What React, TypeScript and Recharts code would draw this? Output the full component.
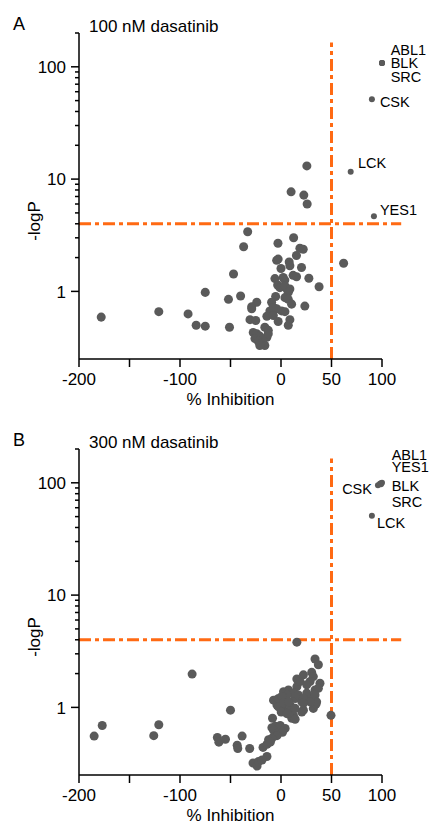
import { ReferenceLine, Scatter, ScatterChart, XAxis, YAxis, ZAxis } from "recharts";

const FONT = '"Liberation Sans", Arial, Helvetica, sans-serif';
const DOT = "#5a5a5a";
const ORANGE = "#ff6a13";

const xTicks = [-200, -150, -100, -50, 0, 50, 100];
const xTickLabels = ["-200", "", "-100", "", "0", "50", "100"];
const yTicks = [1, 2, 3, 4, 5, 6, 7, 8, 9, 10, 20, 30, 40, 50, 60, 70, 80, 90, 100, 200];
const yMajor = [1, 10, 100];

const inhibThreshold = 50;
const logPThreshold = 4;

// [% inhibition, -logP] for the kinases without a name
const kinasesA: [number, number][] = [
    [-178, 0.59], [-121, 0.66], [-92, 0.63], [-84, 0.5], [-75, 0.49], [-75, 0.98], [-52, 0.85], [-51, 0.48], [-47, 1.43], [-40, 0.91],
    [25.6, 13.1], [10, 7.7], [22.6, 7.2], [25.9, 6.0], [-33, 3.4], [-37, 2.5], [-3, 2.68], [12.5, 3.0], [18.7, 2.42], [22, 2.37],
    [15.3, 2.09], [-4.3, 1.89], [-2.8, 1.94], [8.1, 1.83], [8.8, 1.69], [0, 1.6], [20.3, 1.63], [62, 1.78],
    [-6, 1.3], [2.2, 1.33], [3.8, 1.26], [12, 1.39], [15.4, 1.35], [27.6, 1.31], [37.7, 1.1], [-3.3, 1.14], [-1.1, 1.08], [5.5, 1.06],
    [7.2, 1.01], [3.9, 1.12], [8.8, 1.05], [7.2, 0.98], [-5.3, 0.9], [3.9, 0.88], [7.2, 0.85], [10.5, 0.77], [23.6, 0.74],
    [-24, 0.8], [-29, 0.73], [-29, 0.7], [-9.3, 0.8], [-7.6, 0.72], [-11, 0.67], [-4.3, 0.7], [0.6, 0.67], [3.9, 0.66], [-14, 0.6],
    [-7.6, 0.61], [-2.8, 0.54], [8.8, 0.56], [7.2, 0.5], [-30.7, 0.56], [-25, 0.55], [-16, 0.48], [-12.6, 0.45], [-27.5, 0.43],
    [-24, 0.42], [-21, 0.4], [-25.8, 0.38], [-22.5, 0.36], [-19, 0.35], [-17.5, 0.34], [-16, 0.33], [-21, 0.33], [-14, 0.39], [-12.6, 0.42],
];

const kinasesB: [number, number][] = [
    [-185, 0.555], [-177, 0.69], [-126, 0.56], [-121, 0.7], [-88, 1.98], [-50, 0.945], [-63, 0.54], [-61.5, 0.49], [-55, 0.52],
    [-38.5, 0.555], [-43.4, 0.46], [-42.8, 0.43], [-31, 0.43], [-17.8, 0.44], [-13.9, 0.365], [-27.7, 0.32], [-23.7, 0.3],
    [-22.2, 0.33], [-18.8, 0.34], [49.5, 0.85],
    [-8.4, 0.8], [-9, 0.66], [-5.7, 0.68], [-0.8, 0.69], [4.1, 0.65], [-7.4, 0.625], [-2.5, 0.595], [1.5, 0.6], [-4, 0.56],
    [-12.3, 0.515], [-9, 0.53], [-13.9, 0.47], [-10.6, 0.49], [-4, 1.05],
    [-7.4, 1.16], [-2.5, 1.2], [4.1, 1.25], [14, 1.2], [20.6, 1.12], [28.8, 1.25],
    [-2.5, 1.01], [2.5, 0.945], [7.4, 0.91], [12.3, 0.85], [10.7, 0.8], [14, 0.785], [20.6, 0.91], [22.2, 0.945], [32, 0.98],
    [32, 1.09], [4.1, 1.09], [9, 1.05], [14, 0.98], [0.2, 0.91], [5.8, 0.88], [34.7, 1.07],
    [2.5, 1.38], [9, 1.34], [15.7, 1.53], [25.5, 1.34], [33.7, 1.43], [38.6, 1.64],
    [15.7, 3.81], [33.7, 2.7], [37, 2.4], [22.2, 1.95], [30.4, 2.05], [32, 1.88], [15.7, 1.79], [18.9, 1.7], [28.8, 1.7],
    [25.5, 1.59], [37, 1.48], [7.4, 1.43], [12.3, 1.34], [5.8, 1.29], [0.9, 1.25], [17.2, 1.29], [22.2, 1.2], [33.7, 1.29],
    [35.3, 1.12], [28.8, 1.12], [2.5, 1.1], [7.4, 1.12], [22.2, 1.09],
];

// named hits
const hitNamesA = ["ABL1", "BLK", "SRC", "CSK", "LCK", "YES1"];
const hitInhibA = [100, 100, 100, 90, 69, 92];
const hitLogPA = [108, 108, 108, 51.4, 11.6, 4.68];

const hitNamesB = ["ABL1", "YES1", "BLK", "SRC", "CSK", "LCK"];
const hitInhibB = [99, 100, 98, 99, 96, 90];
const hitLogPB = [99, 100, 98, 97, 95, 51];

// label placement relative to the dot: dx, dy, anchor
const labelPosA: Record<string, [number, number, string]> = {
    ABL1: [8.7, -8, "start"], BLK: [8.7, 5, "start"], SRC: [8.7, 19, "start"],
    CSK: [8, 7.7, "start"], LCK: [7.3, -3.6, "start"], YES1: [6, -1.2, "start"],
};
const labelPosB: Record<string, [number, number, string]> = {
    ABL1: [10.7, -23.3, "start"], YES1: [9.7, -11, "start"], BLK: [11.7, 7, "start"],
    SRC: [10.7, 22.4, "start"], CSK: [-6, 8.7, "end"], LCK: [5, 12.5, "start"],
};

const YTick = (props: any) => {
    const { x, y, payload } = props;
    const major = yMajor.includes(payload.value);
    return (
        <g>
            <line x1={x - (major ? 8 : 4)} x2={x} y1={y} y2={y} stroke="#000" strokeWidth={1.5} />
            {major && (
                <text x={x - 13} y={y} dy="0.36em" textAnchor="end" fontSize={17} fill="#000" fontFamily={FONT}>
                    {String(payload.value)}
                </text>
            )}
        </g>
    );
};

const XLabel = (props: any) => {
    const vb = props.viewBox;
    return (
        <text x={vb.x + vb.width / 2} y={vb.y + 46} textAnchor="middle" fontSize={17} fill="#000" fontFamily={FONT}>
            % Inhibition
        </text>
    );
};

const YLabel = (props: any) => {
    const vb = props.viewBox;
    const cx = vb.x + 11;
    const cy = vb.y + vb.height / 2 + 25;
    return (
        <text x={cx} y={cy} transform={`rotate(-90 ${cx} ${cy})`} textAnchor="middle" fontSize={17} fill="#000" fontFamily={FONT}>
            -logP
        </text>
    );
};

type PanelProps = {
    top: number;
    letter: string;
    title: string;
    kinases: [number, number][];
    names: string[];
    hx: number[];
    hy: number[];
    labelPos: Record<string, [number, number, string]>;
};

const Panel = ({ top, letter, title, kinases, names, hx, hy, labelPos }: PanelProps) => {
    const points = kinases.map(([x, y]) => ({ x, y }));
    const hits = names.map((name, i) => ({ name, x: hx[i], y: hy[i] }));

    const hitShape = (p: any) => {
        const [dx, dy, anchor] = labelPos[p.payload.name];
        return (
            <g>
                <circle cx={p.cx} cy={p.cy} r={3} fill={DOT} />
                <text x={p.cx + dx} y={p.cy + dy} textAnchor={anchor as any} fontSize={14.5} fill="#000" fontFamily={FONT}>
                    {p.payload.name}
                </text>
            </g>
        );
    };

    return (
        <div style={{ position: "absolute", left: 0, top, width: 432, height: 415 }}>
            <div style={{ position: "absolute", left: 13, top: 15, fontSize: 18, lineHeight: "18px", fontFamily: FONT }}>{letter}</div>
            <div style={{ position: "absolute", left: 89, top: 18, fontSize: 17, lineHeight: "17px", fontFamily: FONT }}>{title}</div>
            <ScatterChart width={432} height={415} margin={{ top: 33, right: 50, bottom: 6, left: 29 }} style={{ overflow: "visible" }}>
                <XAxis
                    type="number"
                    dataKey="x"
                    domain={[-200, 100]}
                    ticks={xTicks}
                    interval={0}
                    tickFormatter={(v: number) => xTickLabels[xTicks.indexOf(v)] ?? ""}
                    tickSize={8}
                    tickMargin={6}
                    height={50}
                    axisLine={{ stroke: "#000", strokeWidth: 1.5 }}
                    tickLine={{ stroke: "#000", strokeWidth: 1.5 }}
                    tick={{ fill: "#000", fontSize: 17, fontFamily: FONT }}
                    label={{ content: XLabel }}
                />
                <YAxis
                    type="number"
                    dataKey="y"
                    scale="log"
                    domain={[0.25, 200]}
                    ticks={yTicks}
                    interval={0}
                    width={50}
                    tickSize={0}
                    tickMargin={0}
                    tickLine={false}
                    axisLine={{ stroke: "#000", strokeWidth: 1.5 }}
                    tick={<YTick />}
                    label={{ content: YLabel }}
                />
                <ZAxis range={[30, 30]} />
                <ReferenceLine
                    segment={[{ x: -200, y: logPThreshold }, { x: 119, y: logPThreshold }]}
                    ifOverflow="visible"
                    stroke={ORANGE}
                    strokeWidth={3}
                    strokeDasharray="12 4 4 4"
                />
                <ReferenceLine
                    segment={[{ x: inhibThreshold, y: 0.25 }, { x: inhibThreshold, y: 165 }]}
                    ifOverflow="visible"
                    stroke={ORANGE}
                    strokeWidth={3}
                    strokeDasharray="12 4 4 4"
                />
                <Scatter data={points} fill={DOT} isAnimationActive={false} />
                <Scatter data={hits} fill={DOT} shape={hitShape} isAnimationActive={false} />
            </ScatterChart>
        </div>
    );
};

const App = () => {
    return (
        <div style={{ position: "absolute", left: 0, top: 0, width: 432, height: 829, background: "#fff" }}>
            <Panel top={0} letter="A" title="100 nM dasatinib" kinases={kinasesA} names={hitNamesA} hx={hitInhibA} hy={hitLogPA} labelPos={labelPosA} />
            <Panel top={416} letter="B" title="300 nM dasatinib" kinases={kinasesB} names={hitNamesB} hx={hitInhibB} hy={hitLogPB} labelPos={labelPosB} />
        </div>
    );
};

export default App;
